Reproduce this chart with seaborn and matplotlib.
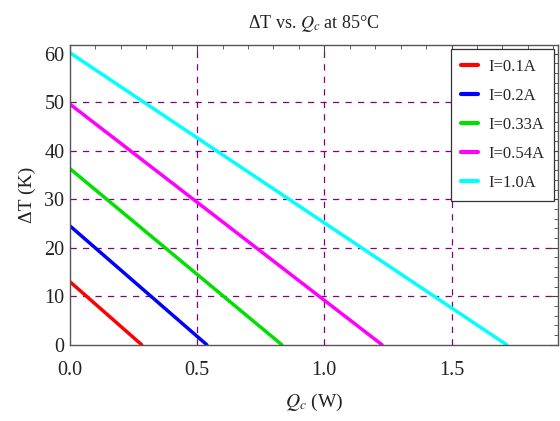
import pandas as pd
import seaborn as sns
import matplotlib.pyplot as plt
from matplotlib.ticker import MultipleLocator

# dane: prad, dT przy Qc=0, Qc przy dT=0
prady = ['I=0.1A', 'I=0.2A', 'I=0.33A', 'I=0.54A', 'I=1.0A']
dT_max = [13.0, 24.5, 36.3, 49.6, 60.2]
Qc_max = [0.282, 0.538, 0.833, 1.227, 1.717]
kolory = ['#ff0000', '#0000ff', '#00e000', '#ff00ff', '#00ffff']

# linie siatki
siatka_x = [0.5, 1.0, 1.5]
siatka_y = [10, 20, 30, 40, 50]

# ramka z punktami koncowymi kazdej prostej
wiersze = []
for nazwa, dt, qc in zip(prady, dT_max, Qc_max):
    wiersze.append({'Qc': 0.0, 'dT': dt, 'I': nazwa})
    wiersze.append({'Qc': qc, 'dT': 0.0, 'I': nazwa})
df = pd.DataFrame(wiersze)

sns.set_style('white')
plt.rcParams['font.family'] = ['Liberation Serif', 'DejaVu Serif']
plt.rcParams['mathtext.fontset'] = 'stix'

fig = plt.figure(figsize=(5.6, 4.21), dpi=100)
ax = fig.add_axes([0.125, 0.181, 0.872, 0.712])

# siatka przerywana (tylko wewnatrz)
for x in siatka_x:
    ax.axvline(x, linestyle=(0, (5, 5)), color='#800080', linewidth=0.9, zorder=0)
for y in siatka_y:
    ax.axhline(y, linestyle=(0, (5, 5)), color='#800080', linewidth=0.9, zorder=0)

sns.lineplot(data=df, x='Qc', y='dT', hue='I', palette=kolory, linewidth=2.5, ax=ax)

ax.set_xlim(0, 1.92)
ax.set_ylim(0, 61.8)
ax.xaxis.set_major_locator(MultipleLocator(0.5))
ax.xaxis.set_minor_locator(MultipleLocator(0.1))
ax.yaxis.set_major_locator(MultipleLocator(10))
ax.yaxis.set_minor_locator(MultipleLocator(2))
ax.xaxis.set_major_formatter(plt.FormatStrFormatter('%.1f'))

ax.tick_params(which='both', direction='in', top=True, right=True, colors='#444444',
               labelcolor='#222222', labelsize=14.5)
ax.tick_params(which='major', length=6)
ax.tick_params(which='minor', length=3)
ax.tick_params(axis='x', which='major', pad=12)
ax.tick_params(axis='y', which='major', pad=4)
for s in ax.spines.values():
    s.set_color('#555555')
    s.set_linewidth(1.0)

ax.set_xlabel('$Q_c$ (W)', fontsize=14, color='#222222', labelpad=8)
ax.set_ylabel('ΔT (K)', fontsize=14, color='#222222', labelpad=6)
ax.set_title('ΔT vs. $Q_c$ at 85°C', fontsize=13, color='#222222', pad=12)

leg = ax.legend(loc='upper right', fontsize=12, frameon=True, fancybox=False,
                handlelength=1.0, handletextpad=0.6, borderaxespad=0.25,
                labelspacing=0.78, borderpad=0.6)
leg.get_frame().set_edgecolor('#333333')
leg.get_frame().set_linewidth(0.9)
leg.get_frame().set_alpha(1)
for l in leg.get_lines():
    l.set_linewidth(3)

plt.savefig('out.png', dpi=100)
plt.close()
